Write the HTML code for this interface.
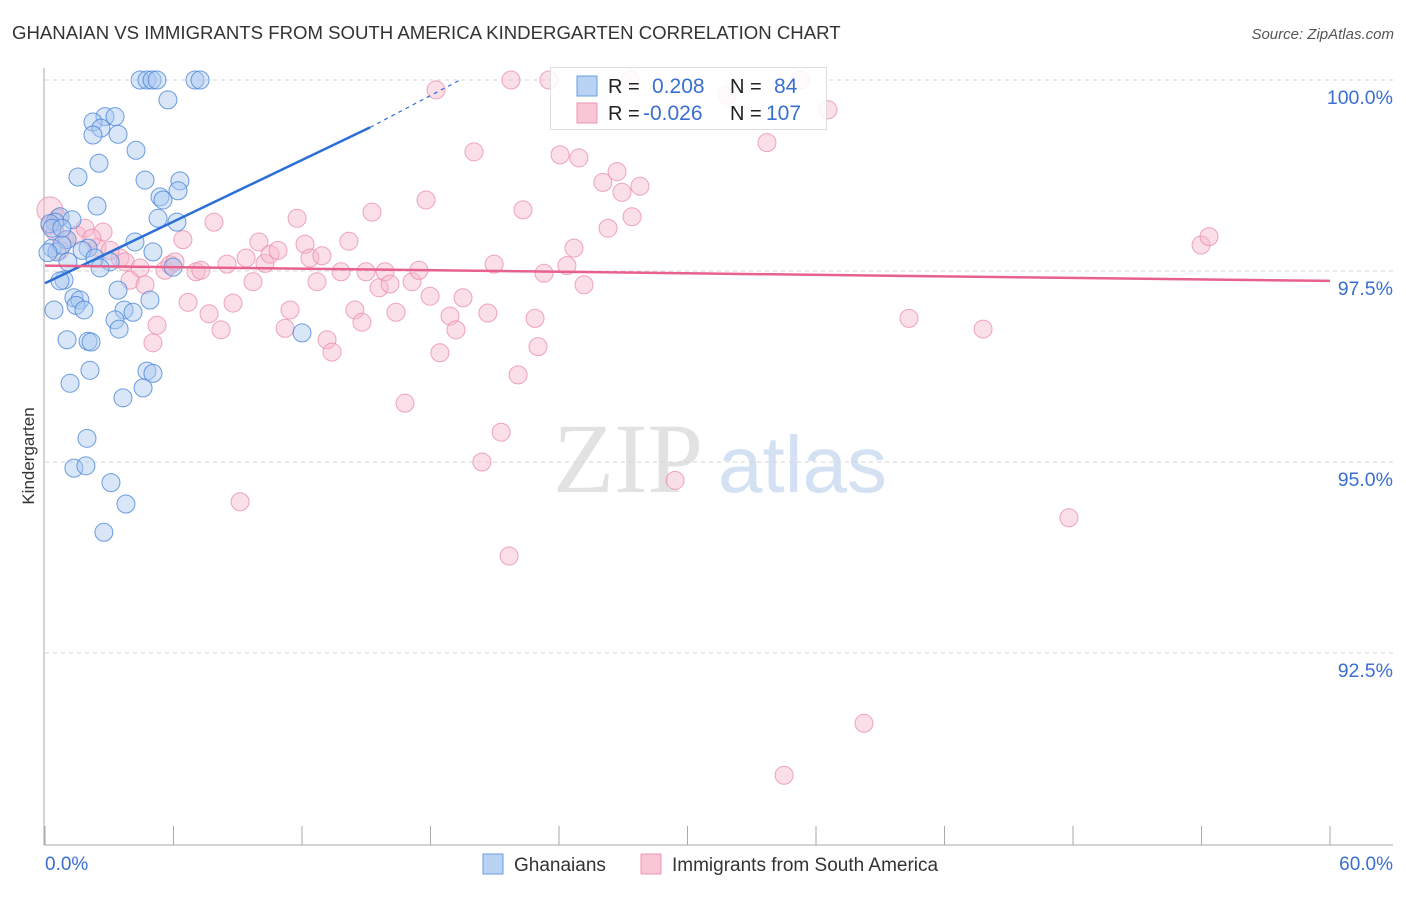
<!DOCTYPE html>
<html><head><meta charset="utf-8"><style>
body{margin:0;background:#fff;font-family:"Liberation Sans",sans-serif;}
svg text{font-family:"Liberation Sans",sans-serif;}
</style></head><body>
<svg id="c" width="1406" height="892" xmlns="http://www.w3.org/2000/svg">
<text x="12" y="39" font-size="18.6" fill="#333">GHANAIAN VS IMMIGRANTS FROM SOUTH AMERICA KINDERGARTEN CORRELATION CHART</text>
<text x="1394" y="39" font-size="15" fill="#555" font-style="italic" text-anchor="end">Source: ZipAtlas.com</text>
<text x="34" y="456" font-size="17" fill="#333" text-anchor="middle" transform="rotate(-90 34 456)">Kindergarten</text>
<g><text x="553" y="492" font-size="100" fill="#e2e2e2" style="font-family:'Liberation Serif',serif">ZIP</text><text x="718" y="492" font-size="80" fill="#d3e1f3">atlas</text></g>
<g id="grid"></g><g id="pts"></g><g id="lines"></g>
<g>
<rect x="550.5" y="67.5" width="276" height="62" fill="#fff" fill-opacity="0.85" stroke="#ddd"/>
<rect x="577" y="76" width="20" height="20" fill="#b9d3f5" stroke="#6a9de0"/>
<rect x="577" y="103" width="20" height="20" fill="#f9c6d5" stroke="#ec98b2"/>
<text x="608" y="93" font-size="20" fill="#222">R =</text><text x="652" y="93" font-size="21" fill="#3a6fd0">0.208</text>
<text x="730" y="93" font-size="20" fill="#222">N =</text><text x="774" y="93" font-size="21" fill="#3a6fd0">84</text>
<text x="608" y="120" font-size="20" fill="#222">R =</text><text x="643" y="120" font-size="21" fill="#3a6fd0">-0.026</text>
<text x="730" y="120" font-size="20" fill="#222">N =</text><text x="766" y="120" font-size="21" fill="#3a6fd0">107</text>
</g>
<g>
<rect x="483" y="854" width="20" height="20" fill="#b9d3f5" stroke="#6a9de0"/>
<text x="514" y="871" font-size="19" fill="#333">Ghanaians</text>
<rect x="641" y="854" width="20" height="20" fill="#f9c6d5" stroke="#ec98b2"/>
<text x="672" y="871" font-size="19" fill="#333">Immigrants from South America</text>
</g>
</svg>
<script>
const xTicks=[0,6,12,18,24,30,36,42,48,54,60];
const yTicks=[100,97.5,95,92.5];
const yTickLabels=["100.0%","97.5%","95.0%","92.5%"];
const blueX=[4.44,4.76,5.0,5.23,7.0,7.24,5.74,2.80,3.27,2.24,2.61,2.24,3.41,4.25,2.52,1.54,4.67,6.30,6.21,5.37,5.51,2.43,5.28,6.16,0.70,0.47,0.23,0.33,1.03,4.20,0.33,0.56,5.04,2.01,1.73,2.33,3.04,2.57,1.07,0.89,0.70,5.98,3.41,1.35,1.63,4.90,1.45,1.82,0.42,3.69,4.11,3.27,3.46,12.0,1.03,2.01,2.15,2.10,4.76,5.04,1.17,4.58,3.64,1.96,1.35,1.91,3.08,3.78,2.75,0.79,0.14,1.26,0.79];
const blueY=[100,100,100,100,100,100,99.74,99.52,99.52,99.45,99.37,99.28,99.29,99.08,98.91,98.73,98.69,98.68,98.55,98.47,98.43,98.35,98.19,98.14,98.21,98.14,98.12,98.06,97.91,97.88,97.80,97.75,97.75,97.80,97.77,97.67,97.62,97.54,97.62,97.38,97.37,97.55,97.25,97.15,97.12,97.12,97.05,96.99,96.99,96.99,96.96,96.86,96.74,96.69,96.60,96.58,96.57,96.20,96.19,96.16,96.03,95.97,95.84,95.31,94.92,94.95,94.73,94.45,94.08,97.84,97.74,98.17,98.06];
const pinkX=[0.23,0.23,0.61,0.93,1.49,1.87,2.43,2.71,3.50,3.74,3.97,4.44,4.67,5.04,5.23,5.60,5.84,6.07,6.44,6.68,7.05,7.28,7.66,7.89,8.22,8.50,8.78,9.11,9.39,9.71,9.99,10.27,10.51,10.88,11.21,11.44,11.77,12.14,12.37,12.70,12.93,13.17,13.40,13.82,14.19,14.47,14.80,14.99,15.27,15.60,15.88,16.11,16.39,16.81,17.14,17.46,17.79,17.98,18.26,18.44,18.91,19.19,19.52,20.03,20.40,20.68,20.97,21.30,21.67,21.76,22.09,22.32,22.88,23.02,23.30,23.53,24.05,24.37,24.70,24.93,25.17,26.05,26.29,26.71,26.94,27.32,27.41,27.78,29.42,31.84,33.71,34.51,35.25,36.56,38.24,40.34,43.80,47.81,53.98,54.35,0.47,0.70,3.04,2.19];
const pinkY=[98.30,98.10,98.19,97.91,97.97,98.06,97.81,98.01,97.67,97.62,97.38,97.54,97.32,96.56,96.79,97.51,97.58,97.62,97.91,97.09,97.49,97.51,96.94,98.14,96.73,97.59,97.08,94.48,97.67,97.36,97.88,97.60,97.72,97.77,96.75,96.99,98.19,97.85,97.67,97.36,97.70,96.60,96.44,97.49,97.89,96.99,96.83,97.49,98.27,97.28,97.49,97.33,96.96,95.77,97.36,97.51,98.43,97.17,99.87,96.43,96.91,96.73,97.15,99.06,95.0,96.95,97.59,95.39,93.77,100,96.14,98.30,96.88,96.51,97.47,100,99.02,97.57,97.80,98.98,97.32,98.66,98.06,98.80,98.53,100,98.21,98.61,94.76,99.80,99.18,90.90,100,99.61,91.58,96.88,96.74,94.27,97.84,97.95,98.01,97.77,97.77,97.93];
const X=v=>45+v/60*1285, Y=v=>80+(100-v)*76.4;
const NS="http://www.w3.org/2000/svg";
function mk(tag,attrs,parent){const e=document.createElementNS(NS,tag);for(const k in attrs)e.setAttribute(k,attrs[k]);parent.appendChild(e);return e;}
const grid=document.getElementById('grid');
yTicks.forEach((t,i)=>{
 const l=mk('line',{x1:45,x2:1393,y1:Y(t),y2:Y(t),stroke:'#d5d5d5','stroke-dasharray':'4,4'},grid);
 
 
 const tx=mk('text',{x:1393,y:Y(t)+24,'font-size':19.5,fill:'#3a6fd0','text-anchor':'end'},grid);
 tx.textContent=yTickLabels[i];
 
 
});
const ax=mk('line',{x1:44,x2:44,y1:68,y2:845,stroke:'#aaa'},grid);


const bx=mk('line',{x1:44,x2:1393,y1:845,y2:845,stroke:'#aaa'},grid);


xTicks.forEach(t=>{const l=mk('line',{x1:X(t),x2:X(t),y1:826,y2:845,stroke:'#aaa'},grid);
 
 });
const t0=mk('text',{x:45,y:870,'font-size':19,fill:'#3a6fd0'},grid);t0.textContent='0.0%';


const t1=mk('text',{x:1393,y:870,'font-size':19,fill:'#3a6fd0','text-anchor':'end'},grid);t1.textContent='60.0%';


const pts=document.getElementById('pts');
pinkX.forEach((v,i)=>{const c=mk('circle',{cx:X(v),cy:Y(pinkY[i]),r:i==0?13:9,fill:'#f7b8cb','fill-opacity':0.45,stroke:'#ea8fae','stroke-opacity':0.8},pts);
 
 });
blueX.forEach((v,i)=>{const c=mk('circle',{cx:X(v),cy:Y(blueY[i]),r:9,fill:'#a9c8f0','fill-opacity':0.45,stroke:'#4a86d8','stroke-opacity':0.8},pts);
 
 });
const lines=document.getElementById('lines');
const b=mk('line',{x1:X(0),y1:Y(97.34),x2:X(15.18),y2:Y(99.38),stroke:'#2a6fd6','stroke-width':2.5},lines);


const bd=mk('line',{x1:X(15.18),y1:Y(99.38),x2:X(19.38),y2:Y(100),stroke:'#2a6fd6','stroke-width':1.2,'stroke-dasharray':'4,4'},lines);


const p=mk('line',{x1:X(0),y1:Y(97.57),x2:X(60),y2:Y(97.37),stroke:'#e8608c','stroke-width':2.5},lines);


</script>
</body></html>
